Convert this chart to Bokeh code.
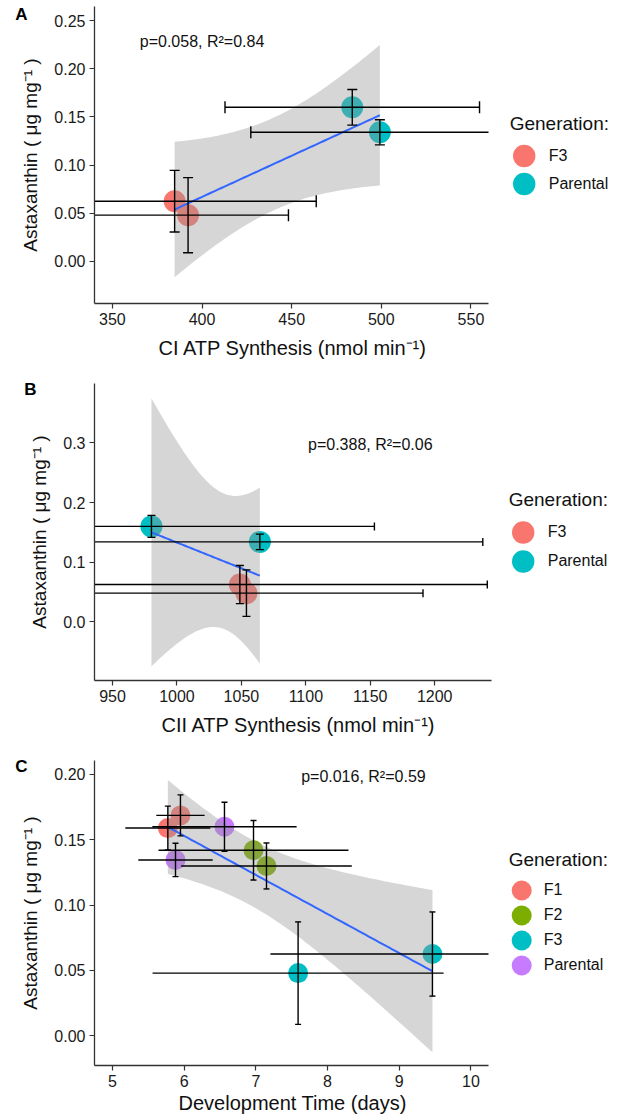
import numpy as np
from bokeh.plotting import figure
from bokeh.layouts import column
from bokeh.models import (FixedTicker, PrintfTickFormatter, Label, Legend,
                          LegendItem, Range1d, LinearAxis, Title)
from bokeh.embed import file_html
from bokeh.resources import INLINE

FONT = "Liberation Sans"

# ---------------- data ----------------
# Panels A and B share the astaxanthin values (generation F3 x2, Parental x2)
gen_AB = ["F3", "F3", "Parental", "Parental"]
astaxanthin_AB = [0.0625, 0.048, 0.160, 0.134]
astaxanthin_err_AB = [0.032, 0.039, 0.0185, 0.013]

ci_atp = [384.7, 392.2, 483.8, 499.2]
ci_atp_err = [79.0, 56.0, 71.0, 72.0]

cii_atp = [1048.8, 1053.9, 980.2, 1064.3]
cii_atp_err = [192.0, 137.0, 173.0, 173.0]

gen_C = ["F1", "F1", "F2", "F2", "F3", "F3", "Parental", "Parental"]
dev_time = [5.772, 5.948, 6.967, 7.148, 7.589, 9.463, 6.562, 5.879]
dev_time_err = [0.593, 0.337, 1.325, 1.19, 2.03, 2.26, 1.006, 0.519]
astaxanthin_C = [0.159, 0.1687, 0.142, 0.130, 0.048, 0.0626, 0.160, 0.1346]
astaxanthin_err_C = [0.0168, 0.0157, 0.0228, 0.0176, 0.0392, 0.0322, 0.0187, 0.0128]

levels_AB = ["F3", "Parental"]
colors_AB = ["#F8766D", "#00BFC4"]
levels_C = ["F1", "F2", "F3", "Parental"]
colors_C = ["#F8766D", "#7CAE00", "#00BFC4", "#C77CFF"]

stat_A = "p=0.058, R\u00b2=0.84"
stat_B = "p=0.388, R\u00b2=0.06"
stat_C = "p=0.016, R\u00b2=0.59"

ticks_xA = [350, 400, 450, 500, 550]
ticks_yA = [0.00, 0.05, 0.10, 0.15, 0.20, 0.25]
ticks_xB = [950, 1000, 1050, 1100, 1150, 1200]
ticks_yB = [0.0, 0.1, 0.2, 0.3]
ticks_xC = [5, 6, 7, 8, 9, 10]
ticks_yC = [0.00, 0.05, 0.10, 0.15, 0.20]

YLABEL = "Astaxanthin ( \u03bcg mg\u207b\u00b9 )"

# two-sided 95% t critical values by residual degrees of freedom
T_CRIT = {2: 4.302653, 6: 2.446912}


def lm_band(x, y, n_grid=80):
    x = np.asarray(x, float)
    y = np.asarray(y, float)
    n = len(x)
    xm, ym = x.mean(), y.mean()
    sxx = ((x - xm) ** 2).sum()
    b = ((x - xm) * (y - ym)).sum() / sxx
    a = ym - b * xm
    resid = y - (a + b * x)
    s = np.sqrt((resid ** 2).sum() / (n - 2))
    gx = np.linspace(x.min(), x.max(), n_grid)
    fit = a + b * gx
    se = s * np.sqrt(1.0 / n + (gx - xm) ** 2 / sxx)
    t = T_CRIT[n - 2]
    return gx, fit, fit - t * se, fit + t * se


def make_panel(letter, x, xerr, y, yerr, gen, levels, colors, xr, yr,
               xticks, xfmt, yticks, yfmt, xlabel, stat, stat_xy,
               height, borders, msize, vcap, hcap, leg, xtitle, letter_y):
    left, right, top, bottom = borders
    # the frame runs to the right edge so that the legend can sit inside it;
    # the x axis itself stops at the panel's own upper limit
    plot_w = 620 - left - right
    x_end_full = xr[1] + (xr[1] - xr[0]) * right / plot_w
    p = figure(width=620, height=height, x_range=Range1d(xr[0], x_end_full),
               y_range=Range1d(*yr), output_backend="svg",
               toolbar_location=None, min_border_left=left,
               min_border_right=0, min_border_top=top,
               min_border_bottom=bottom)
    p.outline_line_color = None
    p.xgrid.grid_line_color = None
    p.ygrid.grid_line_color = None

    x = np.asarray(x, float)
    y = np.asarray(y, float)
    xerr = np.asarray(xerr, float)
    yerr = np.asarray(yerr, float)
    gen = np.asarray(gen)

    items = []
    for lvl, col in zip(levels, colors):
        m = gen == lvl
        r = p.ellipse(x[m], y[m], width=msize, height=msize,
                      width_units="screen", height_units="screen",
                      fill_color=col, line_color=None)
        items.append(LegendItem(label=lvl, renderers=[r]))

    gx, fit, lo, hi = lm_band(x, y)
    p.varea(x=gx, y1=lo, y2=hi, fill_color="#999999", fill_alpha=0.4)
    p.line(gx, fit, line_color="#3366FF", line_width=2)

    ec = "black"
    x_hi = np.minimum(x + xerr, xr[1])
    p.segment(x - xerr, y, x_hi, y, line_color=ec, line_width=1.4)
    p.segment(x, y - yerr, x, y + yerr, line_color=ec, line_width=1.4)
    p.scatter(np.concatenate([x, x]), np.concatenate([y - yerr, y + yerr]),
              marker="dash", size=vcap, line_color=ec, line_width=1.4)
    if hcap > 0:
        ends = np.concatenate([x - xerr, x + xerr])
        ys = np.concatenate([y, y])
        keep = ends <= xr[1]
        p.scatter(ends[keep], ys[keep], marker="dash", angle=np.pi / 2,
                  size=hcap, line_color=ec, line_width=1.4)

    p.xaxis.ticker = FixedTicker(ticks=xticks)
    p.yaxis.ticker = FixedTicker(ticks=yticks)
    p.xaxis.formatter = PrintfTickFormatter(format=xfmt)
    p.yaxis.formatter = PrintfTickFormatter(format=yfmt)
    p.xaxis.bounds = (xr[0], xr[1])
    p.yaxis.axis_label = YLABEL
    for ax in (p.xaxis[0], p.yaxis[0]):
        ax.axis_line_color = "#333333"
        ax.axis_line_width = 1.3
        ax.major_tick_line_color = "#333333"
        ax.major_tick_line_width = 1.2
        ax.major_tick_out = 5
        ax.major_tick_in = 0
        ax.minor_tick_line_color = None
        ax.major_label_text_font = FONT
        ax.major_label_text_font_size = "16px"
        ax.major_label_text_color = "#1a1a1a"
        ax.major_label_standoff = 4
        ax.axis_label_text_font = FONT
        ax.axis_label_text_font_size = "19px"
        ax.axis_label_text_font_style = "normal"
        ax.axis_label_text_color = "#111111"
    p.yaxis.axis_label_standoff = 10

    # x axis title, laid out below the axis and centred on the axis extent
    t_off, t_stand = xtitle
    p.add_layout(Title(text=xlabel, align="left", offset=t_off,
                       vertical_align="top", standoff=t_stand,
                       text_font=FONT, text_font_size="20px",
                       text_font_style="normal", text_color="#111111"),
                 "below")

    p.add_layout(Label(x=stat_xy[0], y=stat_xy[1], text=stat,
                       text_align="center", text_baseline="middle",
                       text_font=FONT, text_font_size="16px",
                       text_color="#111111"))

    lm, gw, gh, lstand = leg
    legend = Legend(items=items, location="center_right", title="Generation:",
                    title_text_font=FONT, title_text_font_size="19px",
                    title_text_font_style="normal", title_text_color="#111111",
                    title_standoff=7, label_text_font=FONT,
                    label_text_font_size="16px", label_text_color="#111111",
                    glyph_width=gw, glyph_height=gh, label_height=gh,
                    label_standoff=lstand, spacing=0, padding=0,
                    margin=lm, border_line_color=None,
                    background_fill_alpha=0)
    p.add_layout(legend, "center")

    # panel letter: a bare outer axis on the left whose single tick label
    # is the letter, placed near the top-left corner
    frame_h = height - top - bottom
    y_letter = yr[1] - (letter_y - top) * (yr[1] - yr[0]) / frame_h
    lax = LinearAxis(ticker=FixedTicker(ticks=[y_letter]),
                     formatter=PrintfTickFormatter(format=letter),
                     axis_line_color=None, major_tick_line_color=None,
                     minor_tick_line_color=None, major_tick_out=0,
                     major_tick_in=0, major_label_standoff=-10,
                     major_label_text_font=FONT,
                     major_label_text_font_size="17px",
                     major_label_text_font_style="bold",
                     major_label_text_color="black")
    p.add_layout(lax, "left")
    return p


pA = make_panel("A", ci_atp, ci_atp_err, astaxanthin_AB, astaxanthin_err_AB,
                gen_AB, levels_AB, colors_AB, (340.0, 559.8), (-0.0437, 0.2646),
                ticks_xA, "%d", ticks_yA, "%.2f",
                "CI ATP Synthesis (nmol min\u207b\u00b9)", stat_A, (400, 0.228),
                370, (94, 132, 6, 67), 22, 10, 12,
                (11, 28, 28, 11), (64, 18), 14)

pB = make_panel("B", cii_atp, cii_atp_err, astaxanthin_AB, astaxanthin_err_AB,
                gen_AB, levels_AB, colors_AB, (936.0, 1244.4), (-0.0985, 0.3997),
                ticks_xB, "%d", ticks_yB, "%.1f",
                "CII ATP Synthesis (nmol min\u207b\u00b9)", stat_B, (1150, 0.2975),
                380, (84, 131, 13, 70), 22, 8, 8,
                (12, 28, 29, 11), (67, 18), 19)

pC = make_panel("C", dev_time, dev_time_err, astaxanthin_C, astaxanthin_err_C,
                gen_C, levels_C, colors_C, (4.749, 10.245), (-0.0227, 0.2107),
                ticks_xC, "%d", ticks_yC, "%.2f",
                "Development Time (days)", stat_C, (8.5, 0.1987),
                368, (94, 132, 10, 53), 20, 6, 0,
                (12, 25, 25, 10), (84, 5), 16)

layout = column(pA, pB, pC, spacing=0)
open("out.html", "w").write(file_html(layout, INLINE))
